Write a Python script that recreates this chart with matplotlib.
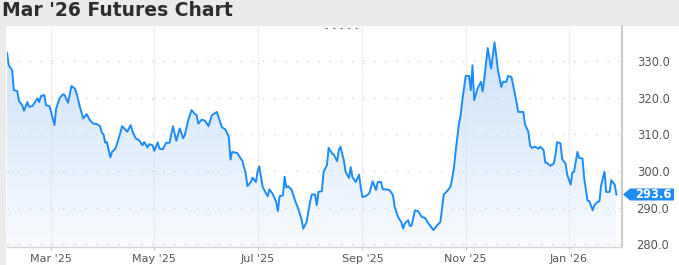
import numpy as np
import pandas as pd
import matplotlib
matplotlib.use("Agg")
import matplotlib.pyplot as plt
import matplotlib.dates as mdates
from matplotlib.patches import Rectangle, Polygon
from matplotlib.lines import Line2D
from matplotlib.colors import LinearSegmentedColormap

title = "Mar '26 Futures Chart"

# daily settle
dates = [
    "2025-02-03", "2025-02-04", "2025-02-06", "2025-02-07", "2025-02-09", "2025-02-10", "2025-02-12", "2025-02-13", "2025-02-15", "2025-02-16",
    "2025-02-18", "2025-02-21", "2025-02-22", "2025-02-23", "2025-02-25", "2025-02-26", "2025-02-28", "2025-03-01", "2025-03-03", "2025-03-04",
    "2025-03-06", "2025-03-08", "2025-03-09", "2025-03-11", "2025-03-13", "2025-03-15", "2025-03-16", "2025-03-18", "2025-03-20", "2025-03-22",
    "2025-03-24", "2025-03-26", "2025-03-28", "2025-03-30", "2025-03-31", "2025-04-01", "2025-04-02", "2025-04-03", "2025-04-05", "2025-04-06",
    "2025-04-08", "2025-04-10", "2025-04-12", "2025-04-15", "2025-04-17", "2025-04-18", "2025-04-20", "2025-04-22", "2025-04-24", "2025-04-25",
    "2025-04-27", "2025-04-28", "2025-04-30", "2025-05-01", "2025-05-03", "2025-05-04", "2025-05-06", "2025-05-08", "2025-05-10", "2025-05-12",
    "2025-05-14", "2025-05-16", "2025-05-18", "2025-05-19", "2025-05-21", "2025-05-23", "2025-05-25", "2025-05-26", "2025-05-27", "2025-05-29",
    "2025-05-31", "2025-06-02", "2025-06-04", "2025-06-07", "2025-06-08", "2025-06-10", "2025-06-12", "2025-06-14", "2025-06-15", "2025-06-16",
    "2025-06-19", "2025-06-21", "2025-06-22", "2025-06-24", "2025-06-25", "2025-06-27", "2025-06-28", "2025-06-30", "2025-07-01", "2025-07-02",
    "2025-07-04", "2025-07-06", "2025-07-07", "2025-07-08", "2025-07-10", "2025-07-12", "2025-07-13", "2025-07-14", "2025-07-16", "2025-07-17",
    "2025-07-18", "2025-07-19", "2025-07-21", "2025-07-23", "2025-07-25", "2025-07-27", "2025-07-28", "2025-07-30", "2025-08-01", "2025-08-02",
    "2025-08-04", "2025-08-05", "2025-08-06", "2025-08-08", "2025-08-09", "2025-08-11", "2025-08-12", "2025-08-14", "2025-08-15", "2025-08-17",
    "2025-08-18", "2025-08-19", "2025-08-21", "2025-08-22", "2025-08-24", "2025-08-25", "2025-08-26", "2025-08-28", "2025-08-30", "2025-08-31",
    "2025-09-01", "2025-09-03", "2025-09-05", "2025-09-07", "2025-09-09", "2025-09-10", "2025-09-12", "2025-09-13", "2025-09-15", "2025-09-17",
    "2025-09-19", "2025-09-20", "2025-09-22", "2025-09-24", "2025-09-25", "2025-09-26", "2025-09-28", "2025-09-29", "2025-09-30", "2025-10-02",
    "2025-10-04", "2025-10-06", "2025-10-08", "2025-10-10", "2025-10-12", "2025-10-13", "2025-10-15", "2025-10-17", "2025-10-18", "2025-10-19",
    "2025-10-21", "2025-10-23", "2025-10-24", "2025-10-25", "2025-10-26", "2025-10-28", "2025-10-29", "2025-10-30", "2025-10-31", "2025-11-01",
    "2025-11-03", "2025-11-04", "2025-11-05", "2025-11-06", "2025-11-08", "2025-11-10", "2025-11-11", "2025-11-12", "2025-11-14", "2025-11-16",
    "2025-11-18", "2025-11-19", "2025-11-20", "2025-11-22", "2025-11-23", "2025-11-25", "2025-11-26", "2025-11-28", "2025-11-29", "2025-12-01",
    "2025-12-02", "2025-12-05", "2025-12-06", "2025-12-08", "2025-12-09", "2025-12-10", "2025-12-12", "2025-12-14", "2025-12-15", "2025-12-17",
    "2025-12-18", "2025-12-19", "2025-12-21", "2025-12-23", "2025-12-24", "2025-12-25", "2025-12-27", "2025-12-28", "2025-12-30", "2025-12-31",
    "2026-01-02", "2026-01-03", "2026-01-04", "2026-01-06", "2026-01-07", "2026-01-09", "2026-01-10", "2026-01-12", "2026-01-13", "2026-01-15",
    "2026-01-16", "2026-01-18", "2026-01-19", "2026-01-20", "2026-01-22", "2026-01-23", "2026-01-25", "2026-01-26", "2026-01-28", "2026-01-29",
]
prices = [
    332.2, 328.8, 327.5, 322.0, 321.8, 319.1, 317.9, 316.4, 318.8, 317.5,
    317.7, 319.8, 318.8, 320.4, 320.7, 317.9, 317.7, 316.1, 312.5, 317.0,
    319.8, 320.9, 320.7, 318.6, 323.1, 322.5, 321.3, 317.5, 314.3, 315.5,
    313.8, 312.9, 312.8, 312.2, 310.4, 310.0, 307.7, 307.9, 303.7, 305.2,
    306.1, 308.9, 312.2, 310.7, 312.5, 310.9, 308.9, 308.4, 307.0, 307.9,
    306.4, 307.3, 307.0, 305.5, 307.8, 306.1, 305.9, 307.7, 307.7, 312.2,
    308.2, 311.6, 308.9, 309.8, 313.8, 316.6, 315.5, 315.2, 312.9, 314.0,
    313.7, 312.2, 315.2, 316.1, 314.6, 311.9, 311.3, 309.3, 303.1, 305.2,
    304.9, 303.4, 302.8, 299.3, 295.9, 297.0, 298.2, 297.0, 299.8, 301.3,
    295.7, 293.9, 293.1, 295.0, 293.7, 291.6, 289.1, 293.1, 293.4, 298.4,
    295.5, 295.9, 295.0, 292.2, 289.8, 286.8, 284.3, 286.1, 291.5, 293.6,
    293.6, 290.7, 294.3, 294.5, 299.8, 301.6, 306.3, 304.8, 304.5, 302.7,
    305.7, 306.6, 302.9, 299.8, 298.1, 301.1, 298.4, 297.0, 299.0, 295.4,
    292.9, 293.2, 293.9, 297.2, 294.8, 297.0, 297.0, 295.0, 295.0, 294.8,
    293.4, 290.2, 287.5, 286.0, 284.3, 285.7, 286.6, 285.0, 285.1, 289.3,
    289.0, 287.5, 287.2, 285.7, 284.5, 283.9, 285.2, 286.1, 289.8, 293.6,
    294.5, 295.7, 298.0, 300.7, 305.2, 312.9, 315.2, 319.3, 322.5, 325.9,
    325.9, 322.0, 328.8, 319.3, 322.5, 324.3, 321.7, 325.2, 333.5, 327.9,
    335.0, 331.6, 327.5, 322.9, 324.3, 324.3, 325.9, 325.6, 323.4, 318.8,
    316.1, 316.1, 312.7, 310.7, 307.0, 306.3, 306.6, 306.1, 306.6, 305.7,
    302.3, 302.2, 301.4, 302.0, 304.3, 307.9, 307.5, 303.2, 302.0, 298.9,
    296.3, 299.6, 299.8, 305.2, 303.6, 303.4, 298.0, 291.9, 291.8, 289.3,
    290.7, 291.6, 291.8, 296.1, 299.8, 294.3, 294.3, 297.5, 296.3, 293.6,
]

xtick_dates = ["2025-03-01", "2025-05-01", "2025-07-01", "2025-09-01", "2025-11-01", "2026-01-01"]
xtick_labels = ["Mar '25", "May '25", "Jul '25", "Sep '25", "Nov '25", "Jan '26"]
yticks = [280, 290, 300, 310, 320, 330]

d = pd.to_datetime(dates)
xmin, xmax = pd.Timestamp("2025-02-02 16:00"), pd.Timestamp("2026-02-01 08:00")
ymin, ymax = 279.3, 339.5

W, H = 679, 265
fig = plt.figure(figsize=(W / 100, H / 100), dpi=100, facecolor="#ebebeb")
fig.add_artist(Rectangle((6 / W, 0), 1, 1 - 26 / H, transform=fig.transFigure,
                         facecolor="white", edgecolor="none", zorder=-5))

ax = fig.add_axes([6.5 / W, 18 / H, (622 - 6.5) / W, 221 / H])
ax.set_facecolor("none")

# gradient area under the line
fill = ax.fill_between(d, prices, ymin, color="none", lw=0)
grad = np.linspace(0, 1, 256).reshape(-1, 1)
cmap = LinearSegmentedColormap.from_list("area", ["#f8fbff", "#c9e0fa"])
img = ax.imshow(grad, extent=[mdates.date2num(xmin), mdates.date2num(xmax), ymin, ymax],
                origin="lower", aspect="auto", cmap=cmap, zorder=1)
img.set_clip_path(fill.get_paths()[0], transform=ax.transData)

ax.plot(d, prices, color="#1e8cf5", lw=1.4, zorder=3)

ax.set_xlim(xmin, xmax)
ax.set_ylim(ymin, ymax)

ax.set_xticks(pd.to_datetime(xtick_dates))
ax.set_xticklabels(xtick_labels)
ax.set_yticks(yticks)
ax.set_yticklabels([f"{v:.1f}" for v in yticks])
ax.yaxis.tick_right()

ax.tick_params(axis="x", length=2.5, width=0.8, color="#c8c8c8", pad=2.5,
               labelsize=8, labelcolor="#555555")
ax.tick_params(axis="y", length=0, pad=10.5, labelsize=8.3, labelcolor="#555555")

ax.set_axisbelow("line")
ax.grid(axis="y", color="#d4d4d4", lw=1.0, linestyle=(0, (1, 7)))
ax.grid(axis="x", color="#d8d8d8", lw=0.8, linestyle=(0, (1, 1.5)))

for s in ["top", "left"]:
    ax.spines[s].set_visible(False)
ax.spines["bottom"].set_color("#d4d4d4")
ax.spines["bottom"].set_linewidth(1.0)
ax.spines["right"].set_color("#cccccc")
ax.spines["right"].set_linewidth(1.5)

# last price badge
last = prices[-1]
x0 = ax.transAxes.transform((1, 0))[0] + 1
y0 = ax.transData.transform((0, last))[1]
pts = np.array([[x0, y0], [x0 + 7, y0 + 6], [x0 + 51, y0 + 6],
                [x0 + 51, y0 - 6], [x0 + 7, y0 - 6]])
fig.add_artist(Polygon(fig.transFigure.inverted().transform(pts), closed=True,
                       transform=fig.transFigure, facecolor="#1e8cf5", edgecolor="none"))
fig.text((x0 + 30) / W, y0 / H, f"{last:.1f}", ha="center", va="center",
         fontsize=8.3, weight="bold", color="white")

fig.text(2 / W, 1 - 1 / H, title, ha="left", va="top", fontsize=13.5,
         weight="bold", color="#2d2d2d")
fig.add_artist(Line2D([325 / W, 361 / W], [1 - 27.5 / H] * 2, transform=fig.transFigure,
                      color="#8a8a8a", lw=0.9, linestyle=(0, (2, 4))))

fig.savefig("out.png", dpi=100, facecolor=fig.get_facecolor())
